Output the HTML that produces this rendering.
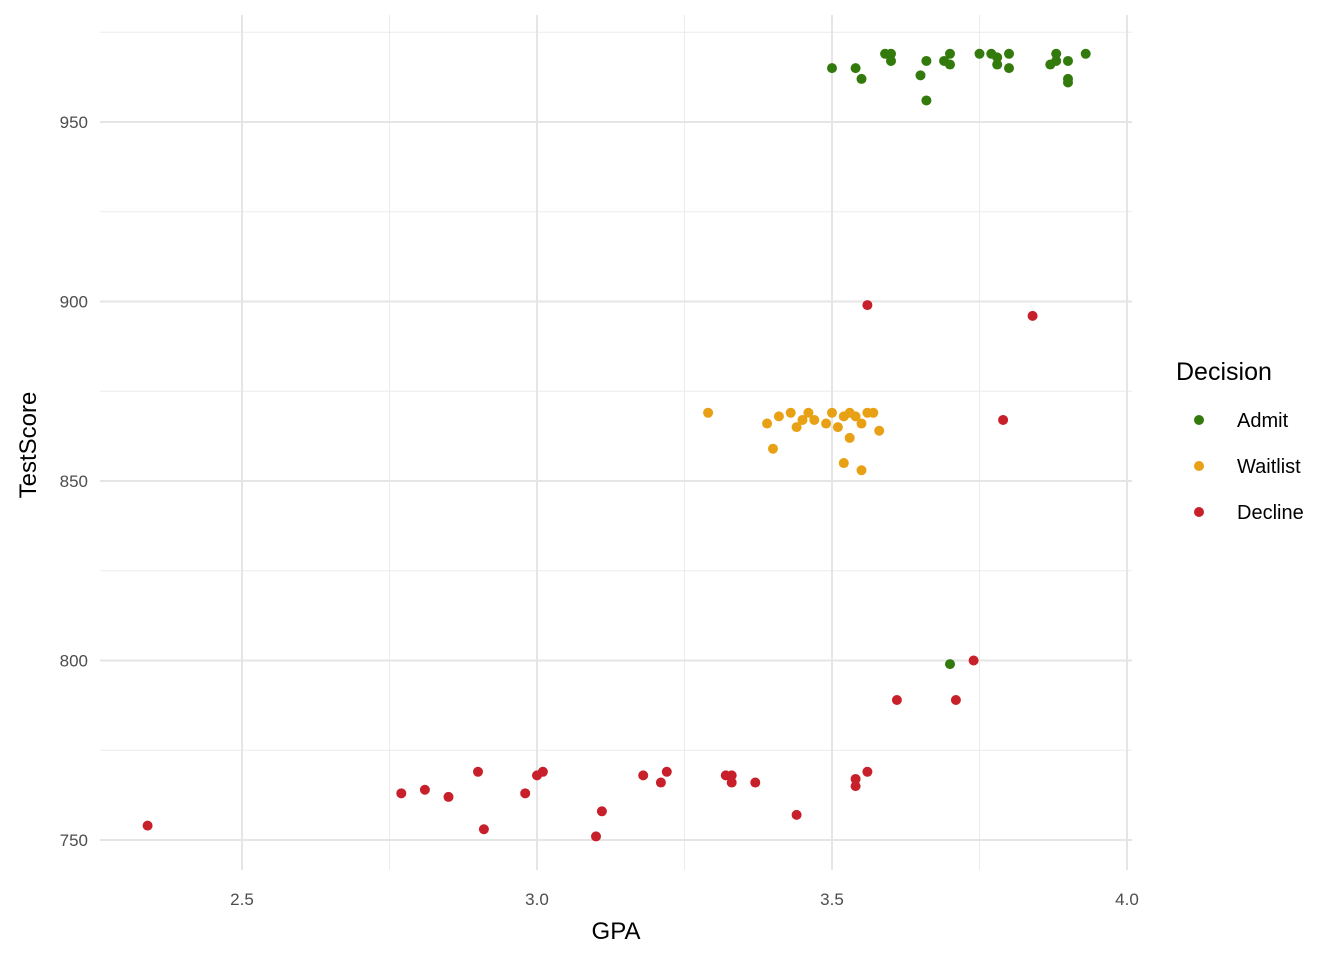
<!DOCTYPE html>
<html><head><meta charset="utf-8"><style>
body{margin:0;background:#fff}
svg{display:block;font-family:"Liberation Sans",Arial,sans-serif}
</style></head><body>
<svg id="chart" width="1344" height="960" viewBox="0 0 1344 960"></svg>
<script>
const admitGPA=[3.5,3.54,3.55,3.59,3.6,3.6,3.65,3.66,3.66,3.69,3.7,3.7,3.75,3.77,3.78,3.78,3.8,3.8,3.87,3.88,3.88,3.9,3.9,3.9,3.93,3.7];
const admitScore=[965,965,962,969,969,967,963,967,956,967,969,966,969,969,968,966,969,965,966,969,967,967,962,961,969,799];
const waitGPA=[3.29,3.39,3.4,3.41,3.43,3.44,3.45,3.46,3.47,3.49,3.5,3.51,3.52,3.52,3.53,3.53,3.54,3.55,3.55,3.56,3.57,3.58];
const waitScore=[869,866,859,868,869,865,867,869,867,866,869,865,868,855,869,862,868,866,853,869,869,864];
const declGPA=[2.34,2.77,2.81,2.85,2.9,2.91,2.98,3.0,3.01,3.1,3.11,3.18,3.21,3.22,3.32,3.33,3.33,3.37,3.44,3.54,3.54,3.56,3.56,3.61,3.71,3.74,3.79,3.84];
const declScore=[754,763,764,762,769,753,763,768,769,751,758,768,766,769,768,768,766,766,757,767,765,769,899,789,789,800,867,896];
const xTicks=[2.5,3.0,3.5,4.0];
const xTickLabels=["2.5","3.0","3.5","4.0"];
const xMinor=[2.75,3.25,3.75];
const yTicks=[750,800,850,900,950];
const yTickLabels=["750","800","850","900","950"];
const yMinor=[775,825,875,925,975];
const legendLabels=["Admit","Waitlist","Decline"];

const NS="http://www.w3.org/2000/svg";
const svg=document.getElementById('chart');
const L=100,R=1132,T=15,B=870;
const X=v=>242+(v-2.5)*590;
const Y=v=>122+(950-v)*3.59;
function mk(tag,attrs,parent){const e=document.createElementNS(NS,tag);for(const k in attrs)e.setAttribute(k,attrs[k]);(parent||svg).appendChild(e);return e;}
const grid=mk('g',{});


xMinor.forEach(v=>mk('line',{x1:X(v),x2:X(v),y1:T,y2:B,stroke:'#ebebeb','stroke-width':1},grid));
yMinor.forEach(v=>mk('line',{x1:L,x2:R,y1:Y(v),y2:Y(v),stroke:'#ebebeb','stroke-width':1},grid));
xTicks.forEach(v=>mk('line',{x1:X(v),x2:X(v),y1:T,y2:B,stroke:'#e5e5e5','stroke-width':2},grid));
yTicks.forEach(v=>mk('line',{x1:L,x2:R,y1:Y(v),y2:Y(v),stroke:'#e5e5e5','stroke-width':2},grid));
xTicks.forEach((v,i)=>{const t=mk('text',{x:X(v),y:905,'text-anchor':'middle','font-size':17,fill:'#4d4d4d'});t.textContent=xTickLabels[i];

});
yTicks.forEach((v,i)=>{const t=mk('text',{x:88,y:Y(v)+6,'text-anchor':'end','font-size':17,fill:'#4d4d4d'});t.textContent=yTickLabels[i];

});
const xt=mk('text',{x:616,y:939,'text-anchor':'middle','font-size':24,fill:'#000'});xt.textContent='GPA';


const yt=mk('text',{x:36,y:445,'text-anchor':'middle','font-size':24,fill:'#000',transform:'rotate(-90 36 445)'});yt.textContent='TestScore';


const colors=['#337a0c','#e8a014','#c8202a'];
const series=[[admitGPA,admitScore],[waitGPA,waitScore],[declGPA,declScore]];
series.forEach((s,si)=>{s[0].forEach((g,i)=>{const c=mk('circle',{cx:X(g),cy:Y(s[1][i]),r:5,fill:colors[si]});

});});
const lt=mk('text',{x:1176,y:380,'font-size':25,fill:'#000'});lt.textContent='Decision';


legendLabels.forEach((lab,i)=>{const y=420+i*46;
const g=mk('g',{});


mk('circle',{cx:1199,cy:y,r:5,fill:colors[i]},g);
const t=mk('text',{x:1237,y:y+7,'font-size':20,fill:'#000'},g);t.textContent=lab;});
</script>
</body></html>
